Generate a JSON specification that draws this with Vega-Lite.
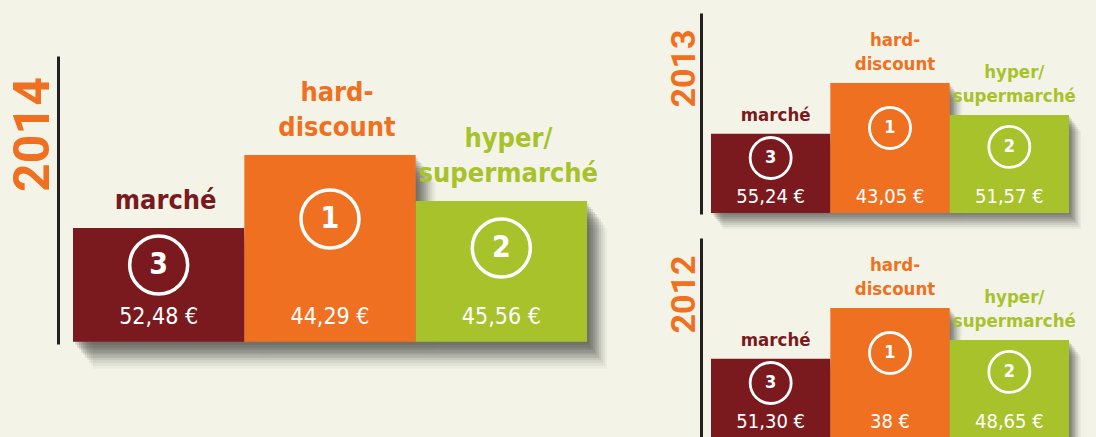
{
  "$schema": "https://vega.github.io/schema/vega-lite/v6.json",
  "background": "#f3f4e7",
  "padding": {"left": 8, "top": 13, "right": 40, "bottom": 0},
  "bounds": "flush",
  "spacing": 124,
  "config": {"view": {"stroke": null}},
  "datasets": {
    "podium": [
      {"annee": 2014, "circuit": "marché", "ligne_haut": "", "ligne_bas": "marché", "rang": 3, "prix": 52.48, "prix_texte": "52,48 €"},
      {"annee": 2014, "circuit": "hard-discount", "ligne_haut": "hard-", "ligne_bas": "discount", "rang": 1, "prix": 44.29, "prix_texte": "44,29 €"},
      {"annee": 2014, "circuit": "hyper/supermarché", "ligne_haut": "hyper/", "ligne_bas": "supermarché", "rang": 2, "prix": 45.56, "prix_texte": "45,56 €"},
      {"annee": 2013, "circuit": "marché", "ligne_haut": "", "ligne_bas": "marché", "rang": 3, "prix": 55.24, "prix_texte": "55,24 €"},
      {"annee": 2013, "circuit": "hard-discount", "ligne_haut": "hard-", "ligne_bas": "discount", "rang": 1, "prix": 43.05, "prix_texte": "43,05 €"},
      {"annee": 2013, "circuit": "hyper/supermarché", "ligne_haut": "hyper/", "ligne_bas": "supermarché", "rang": 2, "prix": 51.57, "prix_texte": "51,57 €"},
      {"annee": 2012, "circuit": "marché", "ligne_haut": "", "ligne_bas": "marché", "rang": 3, "prix": 51.30, "prix_texte": "51,30 €"},
      {"annee": 2012, "circuit": "hard-discount", "ligne_haut": "hard-", "ligne_bas": "discount", "rang": 1, "prix": 38, "prix_texte": "38 €"},
      {"annee": 2012, "circuit": "hyper/supermarché", "ligne_haut": "hyper/", "ligne_bas": "supermarché", "rang": 2, "prix": 48.65, "prix_texte": "48,65 €"}
    ]
  },
  "hconcat": [
    {
      "width": 514,
      "height": 331,
      "data": {"name": "podium"},
      "transform": [{"filter": "datum.annee == 2014"}],
      "encoding": {
        "x": {"field": "circuit", "type": "nominal", "sort": ["marché", "hard-discount", "hyper/supermarché"], "scale": {"paddingInner": 0, "paddingOuter": 0}, "axis": null}
      },
      "layer": [
        {
          "encoding": {
            "y": {"field": "rang", "type": "quantitative", "scale": {"type": "log", "domain": [0.1177, 17.26], "reverse": true, "nice": false, "zero": false},
              "axis": {"title": "2014", "labels": false, "ticks": false, "grid": false, "domain": true, "domainColor": "#231f20", "domainWidth": 3, "domainCap": "butt", "domainDash": [0, 43, 288, 1000], "offset": 15, "titleFont": "Roboto", "titleFontWeight": "bold", "titleFontSize": 50, "titleColor": "#f07022", "titlePadding": 0, "titleY": 121}},
            "y2": {"datum": 16.7}
          },
          "layer": [
            {"mark": {"type": "bar", "color": "#3a3c36", "opacity": 0.14, "xOffset": 2, "yOffset": 3, "y2Offset": 3}},
            {"mark": {"type": "bar", "color": "#3a3c36", "opacity": 0.14, "xOffset": 4, "yOffset": 6, "y2Offset": 6}},
            {"mark": {"type": "bar", "color": "#3a3c36", "opacity": 0.14, "xOffset": 6, "yOffset": 8, "y2Offset": 8}},
            {"mark": {"type": "bar", "color": "#3a3c36", "opacity": 0.14, "xOffset": 8, "yOffset": 11, "y2Offset": 11}},
            {"mark": {"type": "bar", "color": "#3a3c36", "opacity": 0.13, "xOffset": 10, "yOffset": 13, "y2Offset": 13}},
            {"mark": {"type": "bar", "color": "#3a3c36", "opacity": 0.12, "xOffset": 12, "yOffset": 16, "y2Offset": 16}},
            {"mark": {"type": "bar", "color": "#3a3c36", "opacity": 0.1, "xOffset": 14, "yOffset": 18, "y2Offset": 18}},
            {"mark": {"type": "bar", "color": "#3a3c36", "opacity": 0.08, "xOffset": 16, "yOffset": 21, "y2Offset": 21}},
            {"mark": {"type": "bar", "color": "#3a3c36", "opacity": 0.06, "xOffset": 18, "yOffset": 24, "y2Offset": 24}},
            {"mark": {"type": "bar", "color": "#3a3c36", "opacity": 0.04, "xOffset": 20, "yOffset": 27, "y2Offset": 27}},
            {"mark": {"type": "bar", "opacity": 1}, "encoding": {"color": {"field": "circuit", "type": "nominal", "scale": {"domain": ["marché", "hard-discount", "hyper/supermarché"], "range": ["#7a1a1e", "#f07022", "#a8c22c"]}, "legend": null}}},
            {"mark": {"type": "text", "baseline": "bottom", "font": "DejaVu Sans Condensed", "fontWeight": "bold", "fontSize": 27, "dy": -13, "dx": 7}, "encoding": {"text": {"field": "ligne_bas", "type": "nominal"}, "color": {"field": "circuit", "type": "nominal", "legend": null}}},
            {"mark": {"type": "text", "baseline": "bottom", "font": "DejaVu Sans Condensed", "fontWeight": "bold", "fontSize": 27, "dy": -48, "dx": 7}, "encoding": {"text": {"field": "ligne_haut", "type": "nominal"}, "color": {"field": "circuit", "type": "nominal", "legend": null}}},
            {"mark": {"type": "text", "baseline": "middle", "font": "DejaVu Sans Condensed", "fontSize": 23, "color": "white", "dy": -25}, "encoding": {"y": {"datum": 16.7}, "text": {"field": "prix_texte", "type": "nominal"}}}
          ]
        },
        {
          "encoding": {
            "y": {"field": "rang", "type": "quantitative", "scale": {"type": "log", "domain": [0.0073, 19.8], "reverse": true, "nice": false, "zero": false}, "axis": null}
          },
          "layer": [
            {"mark": {"type": "point", "shape": "circle", "filled": false, "color": "white", "strokeWidth": 3.5, "size": 3364, "opacity": 1}},
            {"mark": {"type": "text", "baseline": "middle", "font": "DejaVu Sans Condensed", "fontWeight": "bold", "fontSize": 30, "color": "white"}, "encoding": {"text": {"field": "rang", "type": "quantitative"}}}
          ]
        }
      ],
      "resolve": {"scale": {"y": "independent"}}
    },
    {
      "vconcat": [
        {
          "width": 358,
          "height": 201,
          "data": {"name": "podium"},
          "transform": [{"filter": "datum.annee == 2013"}],
          "encoding": {
            "x": {"field": "circuit", "type": "nominal", "sort": ["marché", "hard-discount", "hyper/supermarché"], "scale": {"paddingInner": 0, "paddingOuter": 0}, "axis": null}
          },
          "layer": [
            {
              "encoding": {
                "y": {"field": "rang", "type": "quantitative", "scale": {"type": "log", "domain": [0.2196, 17.08], "reverse": true, "nice": false, "zero": false},
                  "axis": {"title": "2013", "labels": false, "ticks": false, "grid": false, "domain": true, "domainColor": "#231f20", "domainWidth": 3, "domainCap": "butt", "offset": 10, "titleFont": "Roboto", "titleFontWeight": "bold", "titleFontSize": 34, "titleColor": "#f07022", "titlePadding": 0, "titleY": 55}},
                "y2": {"datum": 16.7}
              },
              "layer": [
                {"mark": {"type": "bar", "color": "#3a3c36", "opacity": 0.14, "xOffset": 1.5, "yOffset": 2, "y2Offset": 2}},
                {"mark": {"type": "bar", "color": "#3a3c36", "opacity": 0.14, "xOffset": 3, "yOffset": 4, "y2Offset": 4}},
                {"mark": {"type": "bar", "color": "#3a3c36", "opacity": 0.14, "xOffset": 4.5, "yOffset": 6, "y2Offset": 6}},
                {"mark": {"type": "bar", "color": "#3a3c36", "opacity": 0.13, "xOffset": 6, "yOffset": 8, "y2Offset": 8}},
                {"mark": {"type": "bar", "color": "#3a3c36", "opacity": 0.11, "xOffset": 7.5, "yOffset": 10, "y2Offset": 10}},
                {"mark": {"type": "bar", "color": "#3a3c36", "opacity": 0.09, "xOffset": 9, "yOffset": 12, "y2Offset": 12}},
                {"mark": {"type": "bar", "color": "#3a3c36", "opacity": 0.07, "xOffset": 10.5, "yOffset": 14, "y2Offset": 14}},
                {"mark": {"type": "bar", "color": "#3a3c36", "opacity": 0.05, "xOffset": 12, "yOffset": 16, "y2Offset": 16}},
                {"mark": {"type": "bar", "opacity": 1}, "encoding": {"color": {"field": "circuit", "type": "nominal", "scale": {"domain": ["marché", "hard-discount", "hyper/supermarché"], "range": ["#7a1a1e", "#f07022", "#a8c22c"]}, "legend": null}}},
                {"mark": {"type": "text", "baseline": "bottom", "font": "DejaVu Sans Condensed", "fontWeight": "bold", "fontSize": 18.5, "dy": -9, "dx": 5}, "encoding": {"text": {"field": "ligne_bas", "type": "nominal"}, "color": {"field": "circuit", "type": "nominal", "legend": null}}},
                {"mark": {"type": "text", "baseline": "bottom", "font": "DejaVu Sans Condensed", "fontWeight": "bold", "fontSize": 18.5, "dy": -33, "dx": 5}, "encoding": {"text": {"field": "ligne_haut", "type": "nominal"}, "color": {"field": "circuit", "type": "nominal", "legend": null}}},
                {"mark": {"type": "text", "baseline": "middle", "font": "DejaVu Sans Condensed", "fontSize": 20, "color": "white", "dy": -16}, "encoding": {"y": {"datum": 16.7}, "text": {"field": "prix_texte", "type": "nominal"}}}
              ]
            },
            {
              "encoding": {
                "y": {"field": "rang", "type": "quantitative", "scale": {"type": "log", "domain": [0.01485, 23.3], "reverse": true, "nice": false, "zero": false}, "axis": null}
              },
              "layer": [
                {"mark": {"type": "point", "shape": "circle", "filled": false, "color": "white", "strokeWidth": 2.8, "size": 1681, "opacity": 1}},
                {"mark": {"type": "text", "baseline": "middle", "font": "DejaVu Sans Condensed", "fontWeight": "bold", "fontSize": 18, "color": "white"}, "encoding": {"text": {"field": "rang", "type": "quantitative"}}}
              ]
            }
          ],
          "resolve": {"scale": {"y": "independent"}}
        },
        {
          "width": 358,
          "height": 201,
          "data": {"name": "podium"},
          "transform": [{"filter": "datum.annee == 2012"}],
          "encoding": {
            "x": {"field": "circuit", "type": "nominal", "sort": ["marché", "hard-discount", "hyper/supermarché"], "scale": {"paddingInner": 0, "paddingOuter": 0}, "axis": null}
          },
          "layer": [
            {
              "encoding": {
                "y": {"field": "rang", "type": "quantitative", "scale": {"type": "log", "domain": [0.2196, 17.08], "reverse": true, "nice": false, "zero": false},
                  "axis": {"title": "2012", "labels": false, "ticks": false, "grid": false, "domain": true, "domainColor": "#231f20", "domainWidth": 3, "domainCap": "butt", "offset": 10, "titleFont": "Roboto", "titleFontWeight": "bold", "titleFontSize": 34, "titleColor": "#f07022", "titlePadding": 0, "titleY": 56}},
                "y2": {"datum": 16.7}
              },
              "layer": [
                {"mark": {"type": "bar", "color": "#3a3c36", "opacity": 0.14, "xOffset": 1.5, "yOffset": 2, "y2Offset": 2}},
                {"mark": {"type": "bar", "color": "#3a3c36", "opacity": 0.14, "xOffset": 3, "yOffset": 4, "y2Offset": 4}},
                {"mark": {"type": "bar", "color": "#3a3c36", "opacity": 0.14, "xOffset": 4.5, "yOffset": 6, "y2Offset": 6}},
                {"mark": {"type": "bar", "color": "#3a3c36", "opacity": 0.13, "xOffset": 6, "yOffset": 8, "y2Offset": 8}},
                {"mark": {"type": "bar", "color": "#3a3c36", "opacity": 0.11, "xOffset": 7.5, "yOffset": 10, "y2Offset": 10}},
                {"mark": {"type": "bar", "color": "#3a3c36", "opacity": 0.09, "xOffset": 9, "yOffset": 12, "y2Offset": 12}},
                {"mark": {"type": "bar", "color": "#3a3c36", "opacity": 0.07, "xOffset": 10.5, "yOffset": 14, "y2Offset": 14}},
                {"mark": {"type": "bar", "color": "#3a3c36", "opacity": 0.05, "xOffset": 12, "yOffset": 16, "y2Offset": 16}},
                {"mark": {"type": "bar", "opacity": 1}, "encoding": {"color": {"field": "circuit", "type": "nominal", "scale": {"domain": ["marché", "hard-discount", "hyper/supermarché"], "range": ["#7a1a1e", "#f07022", "#a8c22c"]}, "legend": null}}},
                {"mark": {"type": "text", "baseline": "bottom", "font": "DejaVu Sans Condensed", "fontWeight": "bold", "fontSize": 18.5, "dy": -9, "dx": 5}, "encoding": {"text": {"field": "ligne_bas", "type": "nominal"}, "color": {"field": "circuit", "type": "nominal", "legend": null}}},
                {"mark": {"type": "text", "baseline": "bottom", "font": "DejaVu Sans Condensed", "fontWeight": "bold", "fontSize": 18.5, "dy": -33, "dx": 5}, "encoding": {"text": {"field": "ligne_haut", "type": "nominal"}, "color": {"field": "circuit", "type": "nominal", "legend": null}}},
                {"mark": {"type": "text", "baseline": "middle", "font": "DejaVu Sans Condensed", "fontSize": 20, "color": "white", "dy": -16}, "encoding": {"y": {"datum": 16.7}, "text": {"field": "prix_texte", "type": "nominal"}}}
              ]
            },
            {
              "encoding": {
                "y": {"field": "rang", "type": "quantitative", "scale": {"type": "log", "domain": [0.01485, 23.3], "reverse": true, "nice": false, "zero": false}, "axis": null}
              },
              "layer": [
                {"mark": {"type": "point", "shape": "circle", "filled": false, "color": "white", "strokeWidth": 2.8, "size": 1681, "opacity": 1}},
                {"mark": {"type": "text", "baseline": "middle", "font": "DejaVu Sans Condensed", "fontWeight": "bold", "fontSize": 18, "color": "white"}, "encoding": {"text": {"field": "rang", "type": "quantitative"}}}
              ]
            }
          ],
          "resolve": {"scale": {"y": "independent"}}
        }
      ],
      "spacing": 24,
      "bounds": "flush"
    }
  ]
}
